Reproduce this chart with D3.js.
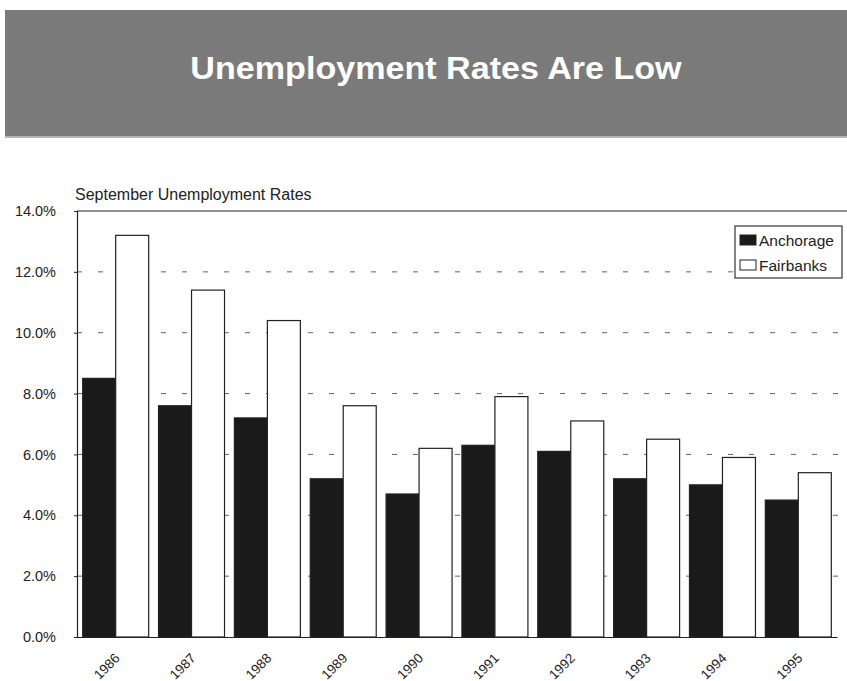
<!DOCTYPE html>
<html>
<head>
<meta charset="utf-8">
<script src="https://cdn.jsdelivr.net/npm/d3@7"></script>
<style>
  body { margin: 0; background: #fff; }
  svg { display: block; font-family: "Liberation Sans", Arial, Helvetica, sans-serif; }
</style>
</head>
<body>
<svg id="chart"></svg>
<script>
// data
const years = ["1986", "1987", "1988", "1989", "1990", "1991", "1992", "1993", "1994", "1995"];
const anchorage = [8.5, 7.6, 7.2, 5.2, 4.7, 6.3, 6.1, 5.2, 5.0, 4.5];
const fairbanks = [13.2, 11.4, 10.4, 7.6, 6.2, 7.9, 7.1, 6.5, 5.9, 5.4];
const seriesNames = ["Anchorage", "Fairbanks"];
const yTicks = [0, 2, 4, 6, 8, 10, 12, 14];

const width = 847, height = 681;
const margin = { top: 211, right: 0, bottom: 44, left: 77 };
const plotW = width - margin.left - margin.right;
const plotH = height - margin.top - margin.bottom;

const svg = d3.select("#chart").attr("width", width).attr("height", height);

// banner
svg.append("rect")
  .attr("x", 5).attr("y", 10)
  .attr("width", 842).attr("height", 128)
  .attr("fill", "#7a7a7a");
svg.append("rect")
  .attr("x", 5).attr("y", 136)
  .attr("width", 842).attr("height", 2)
  .attr("fill", "#b5b5b5");
// title is a bit wider than Arial in the scan, so stretch it slightly
svg.append("text")
  .attr("transform", "translate(436,79) scale(1.1,1)")
  .attr("text-anchor", "middle")
  .attr("fill", "#fff")
  .attr("font-weight", "bold")
  .attr("font-size", 31)
  .text("Unemployment Rates Are Low");

const table = years.map((y, i) => ({ year: y, Anchorage: anchorage[i], Fairbanks: fairbanks[i] }));

const x0 = d3.scaleBand().domain(years).range([0, 760]).paddingInner(0.13).paddingOuter(0.075);
const x1 = d3.scaleBand().domain(seriesNames).range([0, x0.bandwidth()]);
const y = d3.scaleLinear().domain([0, 14]).range([plotH, 0]);
const fill = d3.scaleOrdinal().domain(seriesNames).range(["#1a1a1a", "#fff"]);

const g = svg.append("g").attr("transform", `translate(${margin.left},${margin.top})`);

// dashed gridlines
g.append("g")
  .selectAll("line")
  .data(yTicks.filter(t => t > 0 && t < 14))
  .join("line")
  .attr("x1", 0).attr("x2", plotW)
  .attr("y1", d => y(d)).attr("y2", d => y(d))
  .attr("stroke", "#666")
  .attr("stroke-width", 1)
  .attr("stroke-dasharray", "5,16");

// bars
const groups = g.append("g")
  .selectAll("g")
  .data(table)
  .join("g")
  .attr("transform", d => `translate(${x0(d.year)},0)`);

groups.selectAll("rect")
  .data(d => seriesNames.map(k => ({ key: k, value: d[k] })))
  .join("rect")
  .attr("x", d => x1(d.key))
  .attr("y", d => y(d.value))
  .attr("width", x1.bandwidth())
  .attr("height", d => y(0) - y(d.value))
  .attr("fill", d => fill(d.key))
  .attr("stroke", "#222")
  .attr("stroke-width", 1.2);

// top frame line
g.append("line").attr("x1", 0).attr("x2", plotW).attr("y1", 0).attr("y2", 0)
  .attr("stroke", "#222").attr("stroke-width", 1.2);

// y axis
const yAxis = g.append("g")
  .call(d3.axisLeft(y).tickValues(yTicks).tickFormat(d => d.toFixed(1) + "%").tickSize(3).tickPadding(18));
yAxis.select(".domain").attr("stroke", "#222").attr("stroke-width", 1.2);
yAxis.selectAll(".tick line").attr("stroke", "#222");
yAxis.selectAll(".tick text").attr("font-size", 14.5).attr("fill", "#222")
  .attr("font-family", "'Liberation Sans', Arial, sans-serif");

// x axis
const xAxis = g.append("g")
  .attr("transform", `translate(0,${plotH})`)
  .call(d3.axisBottom(x0).tickSize(0).tickPadding(0));
xAxis.select(".domain").attr("stroke", "#222").attr("stroke-width", 1.2);
xAxis.selectAll(".tick text")
  .attr("font-size", 13.5)
  .attr("fill", "#222")
  .attr("font-family", "'Liberation Sans', Arial, sans-serif")
  .attr("text-anchor", "end")
  .attr("dy", 0)
  .attr("transform", "translate(5,22) rotate(-45)");

// chart caption
svg.append("text")
  .attr("x", 75).attr("y", 200)
  .attr("font-size", 16)
  .attr("fill", "#222")
  .text("September Unemployment Rates");

// legend
const legend = svg.append("g").attr("transform", "translate(735,226)");
legend.append("rect")
  .attr("width", 107).attr("height", 52)
  .attr("fill", "#fff")
  .attr("stroke", "#333")
  .attr("stroke-width", 1.2);
const items = legend.selectAll("g.item")
  .data(seriesNames)
  .join("g")
  .attr("class", "item")
  .attr("transform", (d, i) => `translate(5,${9 + i * 25})`);
items.append("rect")
  .attr("width", 16).attr("height", 10)
  .attr("fill", d => fill(d))
  .attr("stroke", "#222");
items.append("text")
  .attr("x", 19).attr("y", 11)
  .attr("font-size", 15.5)
  .attr("fill", "#222")
  .text(d => d);
</script>
</body>
</html>
